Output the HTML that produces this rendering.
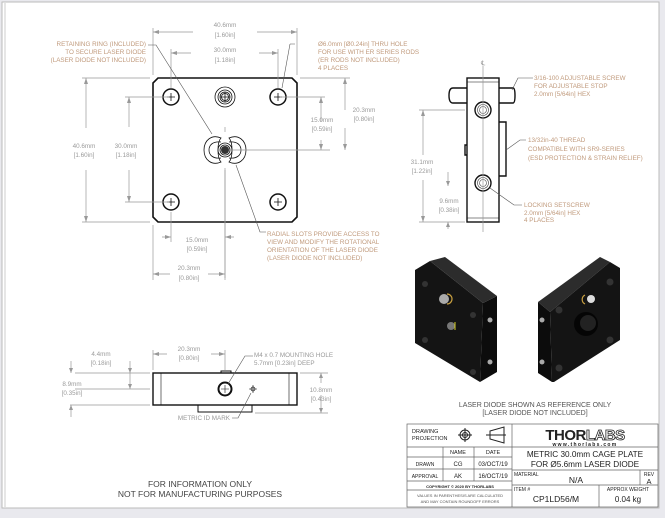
<!DOCTYPE html>
<html><head><meta charset="utf-8"><style>
html,body{margin:0;padding:0;background:#e9e9ee;}
svg{display:block;}
text{font-family:"Liberation Sans",sans-serif;}
.l{fill:#c09a7c;font-size:6.3px;}
.d{fill:#9a9a9a;font-size:6.3px;}
.k{fill:#222;}
</style></head><body>
<svg width="665" height="518" viewBox="0 0 665 518" xmlns="http://www.w3.org/2000/svg">
<rect x="0" y="0" width="665" height="518" fill="#e9e9ee"/>
<rect x="2" y="2" width="657" height="506" fill="#fff" stroke="#bbb" stroke-width="1"/>
<line x1="5" y1="3" x2="5" y2="507" stroke="#ccc"/>

<!-- FRONT VIEW -->
<g stroke="#111" fill="none">
<path d="M158,78 L292,78 L297,83 L297,217 L292,222 L158,222 L153,217 L153,83 Z" stroke-width="1.6"/>
<g stroke-width="1.5">
<circle cx="171" cy="97" r="8"/><circle cx="278" cy="97" r="8"/>
<circle cx="171" cy="202" r="8"/><circle cx="278" cy="202" r="8"/>
</g>
<g stroke-width="0.8">
<path d="M167,97h8M171,93v8M274,97h8M278,93v8M167,202h8M171,198v8M274,202h8M278,198v8"/>
<circle cx="225" cy="97" r="10"/><circle cx="225" cy="97" r="7"/><circle cx="225" cy="97" r="5"/><circle cx="225" cy="97" r="3.5"/>
<path d="M220,97h10M225,92v10"/>
<path d="M221,138 C212,134 204,140 204,150 C204,160 212,166 221,162 C217,158 217,142 221,138 Z"/>
<path d="M229,138 C238,134 246,140 246,150 C246,160 238,166 229,162 C233,158 233,142 229,138 Z"/>
<path d="M221,142 C213,141 209,145 209,150 C209,155 213,159 221,158"/>
<path d="M229,142 C237,141 241,145 241,150 C241,155 237,159 229,158"/>
<circle cx="225" cy="150" r="7"/><circle cx="225" cy="150" r="5"/><circle cx="225" cy="150" r="3"/>
</g>
</g>
<circle cx="225" cy="150" r="4" fill="#333"/>
<g stroke="#999" stroke-width="0.7" fill="none">
<path d="M225,132v-5M225,168v110M232,150H328"/>
<path d="M153,75V28M297,75V28M153,32h40M257,32h40M171,88V49M278,88V49M171,53h20M259,53h19"/>
<path d="M150,78H82M150,222H82M86,78v50M86,170v52M169,97h-44M169,202h-44M129,97v30M129,170v32"/>
<path d="M300,78h50M345,78v32M345,128v22"/>
<path d="M280,97h45M321,97v25M321,140v10M330,150h-2"/>
<path d="M171,212v30M225,170v70M153,225v55M225,240v40M162,237h9M225,237h9M153,274h17M208,274h17"/>
</g>
<g fill="#999">
<path d="M153,32l6,-2v4zM297,32l-6,-2v4zM171,53l6,-2v4zM278,53l-6,-2v4zM86,78l-2,6h4zM86,222l-2,-6h4zM129,97l-2,6h4zM129,202l-2,-6h4zM345,78l-2,6h4zM345,150l-2,-6h4zM321,97l-2,6h4zM321,150l-2,-6h4zM171,237l-6,-2v4zM225,237l6,-2v4zM153,274l6,-2v4zM225,274l-6,-2v4z"/>
</g>
<text class="d" x="225" y="27" text-anchor="middle">40.6mm</text><text class="d" x="225" y="37" text-anchor="middle">[1.60in]</text>
<text class="d" x="225" y="52" text-anchor="middle">30.0mm</text><text class="d" x="225" y="62" text-anchor="middle">[1.18in]</text>
<text class="d" x="84" y="148" text-anchor="middle">40.6mm</text><text class="d" x="84" y="157" text-anchor="middle">[1.60in]</text>
<text class="d" x="126" y="148" text-anchor="middle">30.0mm</text><text class="d" x="126" y="157" text-anchor="middle">[1.18in]</text>
<text class="d" x="322" y="122" text-anchor="middle">15.0mm</text><text class="d" x="322" y="131" text-anchor="middle">[0.59in]</text>
<text class="d" x="364" y="112" text-anchor="middle">20.3mm</text><text class="d" x="364" y="121" text-anchor="middle">[0.80in]</text>
<text class="d" x="197" y="242" text-anchor="middle">15.0mm</text><text class="d" x="197" y="251" text-anchor="middle">[0.59in]</text>
<text class="d" x="189" y="270" text-anchor="middle">20.3mm</text><text class="d" x="189" y="280" text-anchor="middle">[0.80in]</text>

<g stroke="#555" stroke-width="0.6" fill="none">
<path d="M148,45h8L212,134M290,44L282,88M295,44h-5M236,165L260,232h6"/>
</g>
<text class="l" x="146" y="46" text-anchor="end">RETAINING RING (INCLUDED)</text>
<text class="l" x="146" y="54" text-anchor="end">TO SECURE LASER DIODE</text>
<text class="l" x="146" y="62" text-anchor="end">(LASER DIODE NOT INCLUDED)</text>
<text class="l" x="318" y="46">Ø6.0mm [Ø0.24in] THRU HOLE</text>
<text class="l" x="318" y="54">FOR USE WITH ER SERIES RODS</text>
<text class="l" x="318" y="62">(ER RODS NOT INCLUDED)</text>
<text class="l" x="318" y="70">4 PLACES</text>
<text class="l" x="267" y="236">RADIAL SLOTS PROVIDE ACCESS TO</text>
<text class="l" x="267" y="244">VIEW AND MODIFY THE ROTATIONAL</text>
<text class="l" x="267" y="252">ORIENTATION OF THE LASER DIODE</text>
<text class="l" x="267" y="260">(LASER DIODE NOT INCLUDED)</text>

<!-- SIDE VIEW -->
<g stroke="#111" fill="none" stroke-width="1.4">
<rect x="467" y="78" width="32" height="144"/>
<path d="M467,88h-14q-4,0 -4,7.5q0,7.5 4,7.5h14M499,88h14q2,0 2,7.5q0,7.5 -2,7.5h-14"/>
<path d="M499,122h7v54h-7M467,145h-2v10h2"/>
<circle cx="483" cy="110" r="8"/><circle cx="483" cy="183" r="8"/>
<path d="M467,82h32M467,218h32" stroke-width="0.6"/>
</g>
<g stroke="#444" stroke-width="0.6" fill="none"><circle cx="483" cy="110" r="5.5"/><circle cx="483" cy="110" r="3.5"/><circle cx="483" cy="183" r="5.5"/><circle cx="483" cy="183" r="3.5"/></g>
<g stroke="#999" stroke-width="0.7" fill="none">
<path d="M483,66V232M465,110h-46M465,222h-46M423,110v45M423,180v42M448,172v14M448,229v-7"/>
</g>
<path d="M423,110l-2,6h4zM423,222l-2,-6h4zM448,186l-2,-5h4zM448,222l-2,5h4z" fill="#999"/>
<text class="d" x="483" y="65" text-anchor="middle">℄</text>
<text class="d" x="422" y="164" text-anchor="middle">31.1mm</text><text class="d" x="422" y="173" text-anchor="middle">[1.22in]</text>
<text class="d" x="449" y="203" text-anchor="middle">9.6mm</text><text class="d" x="449" y="212" text-anchor="middle">[0.38in]</text>
<g stroke="#555" stroke-width="0.6" fill="none"><path d="M512,90L518,78h15M506,150L520,140h6M490,188L514,205h8"/></g>
<text class="l" x="534" y="80">3/16-100 ADJUSTABLE SCREW</text>
<text class="l" x="534" y="88">FOR ADJUSTABLE STOP</text>
<text class="l" x="534" y="96">2.0mm [5/64in] HEX</text>
<text class="l" x="528" y="142">13/32in-40 THREAD</text>
<text class="l" x="528" y="151">COMPATIBLE WITH SR9-SERIES</text>
<text class="l" x="528" y="160">(ESD PROTECTION &amp; STRAIN RELIEF)</text>
<text class="l" x="524" y="207">LOCKING SETSCREW</text>
<text class="l" x="524" y="215">2.0mm [5/64in] HEX</text>
<text class="l" x="524" y="222">4 PLACES</text>

<!-- 3D render left -->
<polygon points="415,270 430,261 483,303 480,382 415,343" fill="#141414"/>
<polygon points="430,261 445,257 497,296 483,303" fill="#2c2c2c"/>
<polygon points="483,303 497,296 497,372 480,382" fill="#0c0c0c"/>
<circle cx="444" cy="299" r="5" fill="#aaa"/><path d="M447,294a5,5 0 0 1 0,10" stroke="#c9a040" stroke-width="1.2" fill="none"/>
<circle cx="451" cy="326" r="4" fill="#777"/><path d="M455,322v8" stroke="#d8d020" stroke-width="1"/>
<circle cx="490" cy="320" r="2.5" fill="#aaa"/><circle cx="490" cy="362" r="2.5" fill="#aaa"/>
<circle cx="425" cy="284" r="3" fill="#333"/><circle cx="473" cy="315" r="3" fill="#333"/><circle cx="425" cy="340" r="3" fill="#333"/><circle cx="473" cy="372" r="3" fill="#333"/>
<!-- 3D render right -->
<polygon points="538,302 600,257 610,262 550,312" fill="#2c2c2c"/>
<polygon points="538,302 550,312 552,382 538,373" fill="#0c0c0c"/>
<polygon points="550,312 610,262 620,268 620,340 554,382 552,382" fill="#141414"/>
<circle cx="586" cy="324" r="12" fill="#050505"/><circle cx="588" cy="323" r="8" fill="#222"/>
<circle cx="591" cy="299" r="4" fill="#ddd"/><path d="M585,295a5,5 0 0 0 0,9" stroke="#c9a040" stroke-width="1.2" fill="none"/>
<circle cx="542" cy="320" r="2.5" fill="#aaa"/><circle cx="542" cy="362" r="2.5" fill="#aaa"/>
<circle cx="559" cy="310" r="3.5" fill="#333"/><circle cx="610" cy="282" r="3.5" fill="#333"/><circle cx="559" cy="368" r="3.5" fill="#333"/><circle cx="610" cy="340" r="3.5" fill="#333"/>
<text x="535" y="407" text-anchor="middle" style="fill:#555;font-size:7px">LASER DIODE SHOWN AS REFERENCE ONLY</text>
<text x="535" y="415" text-anchor="middle" style="fill:#555;font-size:7px">[LASER DIODE NOT INCLUDED]</text>

<!-- BOTTOM VIEW -->
<g stroke="#111" fill="none" stroke-width="1.4">
<rect x="153" y="373" width="144" height="32"/>
<path d="M198,405v7h54v-7M221,373v-2h10v2" stroke-width="1"/>
<path d="M161,373v32M289,373v32" stroke-width="0.6"/>
<circle cx="225" cy="389" r="6.5" stroke-width="2"/>
<path d="M221,389h8M225,385v8M249,389h8M253,385v8" stroke-width="0.6"/>
<circle cx="253" cy="389" r="2" stroke-width="0.7"/>
</g>
<g stroke="#999" stroke-width="0.7" fill="none">
<path d="M150,373H75M150,389H75M150,405H70M71,361v12M71,405v12M130,361v12M130,373v16M153,370V350M225,370V350M153,354h14M211,354h14M300,373h28M255,413h73M321,373v10M321,395v18"/>
</g>
<path d="M71,373l-2,-5h4zM71,405l-2,5h4zM130,373l-2,-5h4zM130,389l-2,-5h4zM153,354l6,-2v4zM225,354l-6,-2v4zM321,373l-2,5h4zM321,413l-2,-5h4z" fill="#999"/>
<text class="d" x="101" y="356" text-anchor="middle">4.4mm</text><text class="d" x="101" y="365" text-anchor="middle">[0.18in]</text>
<text class="d" x="72" y="386" text-anchor="middle">8.9mm</text><text class="d" x="72" y="395" text-anchor="middle">[0.35in]</text>
<text class="d" x="189" y="351" text-anchor="middle">20.3mm</text><text class="d" x="189" y="360" text-anchor="middle">[0.80in]</text>
<text class="d" x="321" y="392" text-anchor="middle">10.8mm</text><text class="d" x="321" y="401" text-anchor="middle">[0.43in]</text>
<g stroke="#555" stroke-width="0.6" fill="none"><path d="M228,384L245,356h8M251,393L238,418h-6"/></g>
<text class="l" x="254" y="357" style="fill:#999">M4 x 0.7 MOUNTING HOLE</text>
<text class="l" x="254" y="365" style="fill:#999">5.7mm [0.23in] DEEP</text>
<text class="l" x="230" y="420" text-anchor="end" style="fill:#999">METRIC ID MARK</text>

<text x="200" y="487" text-anchor="middle" style="font-size:8.5px;fill:#444">FOR INFORMATION ONLY</text>
<text x="200" y="497" text-anchor="middle" style="font-size:8.5px;fill:#444">NOT FOR MANUFACTURING PURPOSES</text>

<!-- TITLE BLOCK -->
<g stroke="#666" stroke-width="0.7" fill="none">
<rect x="407" y="424" width="251" height="83"/>
<path d="M512,424v83M407,447h105M407,457h105M407,469h105M407,481h105M407,490h105M443,447v34M474,447v34"/>
<path d="M512,447h146M512,470h146M512,485h146M640,470v15M599,485v22"/>
</g>
<g stroke="#222" stroke-width="1" fill="none">
<circle cx="465" cy="435" r="5"/><circle cx="465" cy="435" r="2.5"/><path d="M458,435h14M465,428v14"/>
<path d="M490,431l14,-4v16l-14,-4zM486,435h20"/>
</g>
<text class="k" x="412" y="433" style="font-size:5.5px">DRAWING</text>
<text class="k" x="412" y="440" style="font-size:5.5px">PROJECTION</text>
<text class="k" x="458" y="454" text-anchor="middle" style="font-size:5.5px">NAME</text>
<text class="k" x="493" y="454" text-anchor="middle" style="font-size:5.5px">DATE</text>
<text class="k" x="425" y="466" text-anchor="middle" style="font-size:5px">DRAWN</text>
<text class="k" x="458" y="466" text-anchor="middle" style="font-size:6px">CG</text>
<text class="k" x="493" y="466" text-anchor="middle" style="font-size:6px">03/OCT/19</text>
<text class="k" x="425" y="478" text-anchor="middle" style="font-size:5px">APPROVAL</text>
<text class="k" x="458" y="478" text-anchor="middle" style="font-size:6px">AK</text>
<text class="k" x="493" y="478" text-anchor="middle" style="font-size:6px">16/OCT/19</text>
<text class="k" x="460" y="488" text-anchor="middle" style="font-size:4px;font-weight:bold">COPYRIGHT © 2020 BY THORLABS</text>
<text class="k" x="460" y="497" text-anchor="middle" style="font-size:4px;fill:#555">VALUES IN PARENTHESIS ARE CALCULATED</text>
<text class="k" x="460" y="503" text-anchor="middle" style="font-size:4px;fill:#555">AND MAY CONTAIN ROUNDOFF ERRORS</text>
<text x="585" y="440" text-anchor="middle" style="font-size:15px;font-weight:bold;fill:#222;letter-spacing:-0.5px">THOR<tspan fill="#fff" stroke="#222" stroke-width="0.8">LABS</tspan></text>
<text class="k" x="585" y="446" text-anchor="middle" style="font-size:5px;font-weight:bold;letter-spacing:1.3px">www.thorlabs.com</text>
<text class="k" x="585" y="457" text-anchor="middle" style="font-size:8.2px">METRIC 30.0mm CAGE PLATE</text>
<text class="k" x="585" y="467" text-anchor="middle" style="font-size:8.2px">FOR Ø5.6mm LASER DIODE</text>
<text class="k" x="514" y="476" style="font-size:5px">MATERIAL</text>
<text class="k" x="576" y="483" text-anchor="middle" style="font-size:8.5px">N/A</text>
<text class="k" x="649" y="476" text-anchor="middle" style="font-size:5px">REV</text>
<text class="k" x="649" y="484" text-anchor="middle" style="font-size:7.5px">A</text>
<text class="k" x="514" y="491" style="font-size:5px">ITEM #</text>
<text class="k" x="556" y="502" text-anchor="middle" style="font-size:8.5px">CP1LD56/M</text>
<text class="k" x="628" y="491" text-anchor="middle" style="font-size:5px">APPROX WEIGHT</text>
<text class="k" x="628" y="502" text-anchor="middle" style="font-size:8px">0.04 kg</text>
</svg>
</body></html>
